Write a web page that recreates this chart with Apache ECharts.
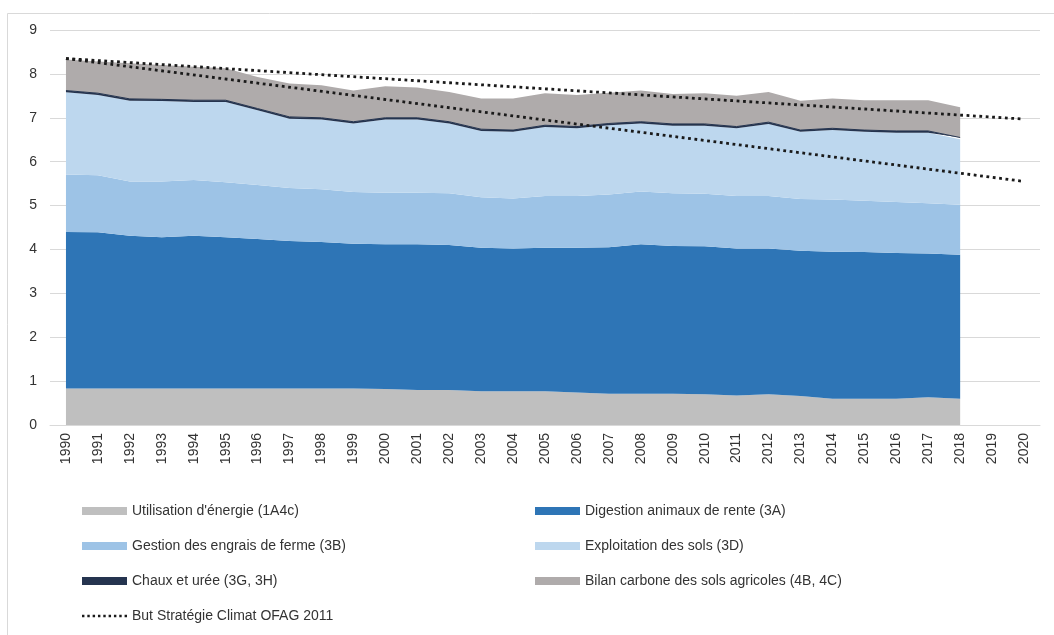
<!DOCTYPE html>
<html>
<head>
<meta charset="utf-8">
<script src="https://cdn.jsdelivr.net/npm/echarts@6/dist/echarts.min.js"></script>
<style>
  html, body { margin: 0; padding: 0; background: #fff; }
  #main { width: 1054px; height: 635px; }
</style>
</head>
<body>
<div id="main"></div>
<script>
var years = [];
for (var y = 1990; y <= 2020; y++) years.push(String(y));

// Mio. t CO2-eq, 1990-2018
var energie = [0.83, 0.83, 0.83, 0.83, 0.83, 0.83, 0.83, 0.83, 0.83, 0.83, 0.82, 0.80, 0.80, 0.77, 0.77, 0.77, 0.74, 0.71, 0.71, 0.71, 0.70, 0.67, 0.70, 0.66, 0.60, 0.60, 0.60, 0.63, 0.60];
var digestion = [3.57, 3.56, 3.48, 3.45, 3.48, 3.45, 3.41, 3.36, 3.34, 3.30, 3.30, 3.32, 3.30, 3.27, 3.25, 3.27, 3.30, 3.34, 3.41, 3.37, 3.37, 3.35, 3.32, 3.31, 3.35, 3.34, 3.32, 3.28, 3.28];
var engrais = [1.31, 1.30, 1.24, 1.27, 1.27, 1.25, 1.23, 1.21, 1.20, 1.18, 1.17, 1.17, 1.18, 1.15, 1.14, 1.18, 1.18, 1.20, 1.20, 1.20, 1.20, 1.20, 1.20, 1.18, 1.19, 1.17, 1.16, 1.14, 1.14];
var sols = [1.87, 1.83, 1.84, 1.83, 1.78, 1.83, 1.70, 1.58, 1.59, 1.56, 1.67, 1.67, 1.59, 1.51, 1.52, 1.57, 1.54, 1.58, 1.55, 1.54, 1.55, 1.54, 1.64, 1.53, 1.58, 1.57, 1.58, 1.61, 1.49];
var chaux = [0.04, 0.04, 0.04, 0.04, 0.04, 0.04, 0.04, 0.04, 0.04, 0.04, 0.04, 0.04, 0.04, 0.04, 0.04, 0.04, 0.04, 0.04, 0.04, 0.04, 0.04, 0.04, 0.04, 0.04, 0.04, 0.04, 0.04, 0.04, 0.04];
var bilan = [0.71, 0.72, 0.81, 0.78, 0.76, 0.73, 0.72, 0.76, 0.74, 0.71, 0.72, 0.69, 0.68, 0.70, 0.72, 0.73, 0.72, 0.70, 0.71, 0.68, 0.70, 0.70, 0.69, 0.67, 0.68, 0.68, 0.70, 0.70, 0.69];

// Objectif: valeurs 1990 et 2020 (deux trajectoires)
var butHaut = [8.35, 6.97];
var butBas = [8.35, 5.55];

var names = [
  'Utilisation d\'énergie (1A4c)',
  'Digestion animaux de rente (3A)',
  'Gestion des engrais de ferme (3B)',
  'Exploitation des sols (3D)',
  'Chaux et urée (3G, 3H)',
  'Bilan carbone des sols agricoles (4B, 4C)',
  'But Stratégie Climat OFAG 2011'
];
var colors = ['#BFBFBF', '#2E75B6', '#9DC3E6', '#BDD7EE', '#25344F', '#AFABAB'];
var stacks = [energie, digestion, engrais, sols, chaux, bilan];

function goalLine(ends) {
  var d = years.map(function () { return null; });
  d[0] = ends[0];
  d[d.length - 1] = ends[1];
  return d;
}

// petite icone pointillee pour la legende
var dots = [];
for (var k = 0; k < 9; k++) dots.push('M' + (k * 2.2) + ',0h1v1h-1z');
var dotIcon = 'path://' + dots.join(' ');

var series = stacks.map(function (data, i) {
  return {
    name: names[i],
    type: 'line',
    stack: 'total',
    data: data,
    symbol: 'none',
    itemStyle: { color: colors[i] },
    lineStyle: { width: i === 4 ? 1 : 0, color: colors[i] },
    areaStyle: { color: colors[i], opacity: 1 },
    emphasis: { disabled: true },
    z: 2
  };
});

[butHaut, butBas].forEach(function (ends) {
  series.push({
    name: names[6],
    type: 'line',
    data: goalLine(ends),
    connectNulls: true,
    symbol: 'none',
    itemStyle: { color: '#1a1a1a' },
    lineStyle: { color: '#1a1a1a', width: 2.8, type: [2.8, 3.6], cap: 'butt' },
    emphasis: { disabled: true },
    z: 5
  });
});

var legendText = { fontFamily: 'Liberation Sans', fontSize: 14, color: '#333' };

var chartDom = document.getElementById('main');
var myChart = echarts.init(chartDom);
var option = {
  animation: false,
  backgroundColor: '#fff',
  textStyle: { fontFamily: 'Liberation Sans' },
  grid: { left: 50, right: 14, top: 30, bottom: 210, containLabel: false },
  graphic: [{
    type: 'rect',
    shape: { x: 7.5, y: 13.5, width: 1100, height: 700 },
    style: { fill: null, stroke: '#D9D9D9', lineWidth: 1 },
    silent: true
  }],
  legend: [{
    orient: 'vertical',
    left: 82,
    top: 504,
    padding: 0,
    itemWidth: 45,
    itemHeight: 8,
    itemGap: 21,
    textStyle: legendText,
    data: [
      { name: names[0], icon: 'rect' },
      { name: names[2], icon: 'rect' },
      { name: names[4], icon: 'rect' }
    ]
  }, {
    orient: 'vertical',
    left: 535,
    top: 504,
    padding: 0,
    itemWidth: 45,
    itemHeight: 8,
    itemGap: 21,
    textStyle: legendText,
    data: [
      { name: names[1], icon: 'rect' },
      { name: names[3], icon: 'rect' },
      { name: names[5], icon: 'rect' }
    ]
  }, {
    orient: 'vertical',
    left: 82,
    top: 609,
    padding: 0,
    itemWidth: 45,
    itemHeight: 2.5,
    textStyle: legendText,
    data: [{ name: names[6], icon: dotIcon }]
  }],
  xAxis: {
    type: 'category',
    data: years,
    boundaryGap: true,
    axisLine: { lineStyle: { color: '#D9D9D9', width: 1 } },
    axisTick: { show: false },
    axisLabel: { rotate: 90, fontSize: 14, color: '#333', margin: 8, interval: 0 }
  },
  yAxis: {
    type: 'value',
    min: 0,
    max: 9,
    interval: 1,
    axisLine: { show: false },
    axisTick: { show: false },
    axisLabel: { fontSize: 14, color: '#333', margin: 13 },
    splitLine: { lineStyle: { color: '#D9D9D9', width: 1 } }
  },
  series: series
};
myChart.setOption(option);
</script>
</body>
</html>
